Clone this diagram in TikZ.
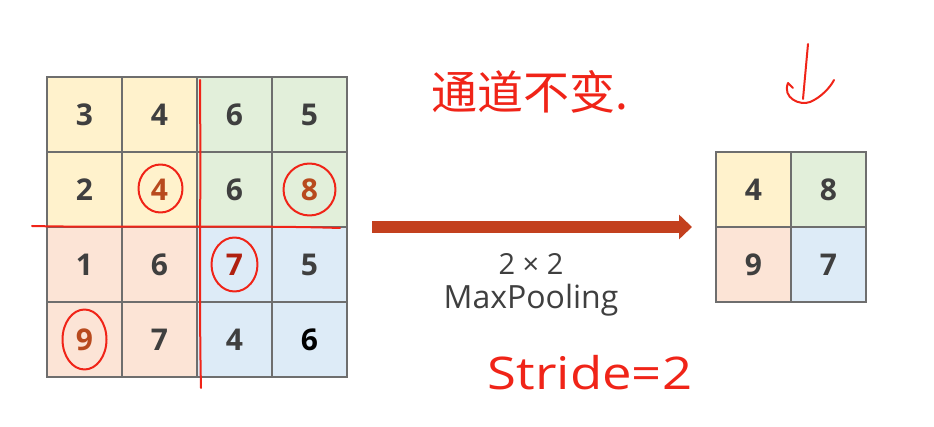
\documentclass[tikz,border=0pt]{standalone}
\usepackage{fontspec}
\setmainfont{Open Sans}
\newfontfamily\cjk{Noto Sans CJK SC}
\usepackage{xcolor}
\usepackage{tikz}
\usetikzlibrary{positioning, calc, arrows.meta}

\definecolor{q00}{HTML}{FFF2CC}
\definecolor{q01}{HTML}{E2EFDA}
\definecolor{q10}{HTML}{FCE4D6}
\definecolor{q11}{HTML}{DDEBF7}
\definecolor{num}{HTML}{3F3F3F}
\definecolor{hot}{HTML}{B84A1E}
\definecolor{hotter}{HTML}{B02010}
\definecolor{gridline}{HTML}{6E6E6E}
\definecolor{arrowred}{HTML}{C3401E}
\definecolor{pen}{HTML}{F02418}

\tikzset{
  cell/.style={draw=gridline, line width=1.3pt, minimum size=75pt, inner sep=0pt,
    font=\fontsize{30}{30}\selectfont\bfseries},
  ink/.style={draw=pen, line width=2pt, line cap=round, line join=round},
}

\begin{document}
\begin{tikzpicture}[x=1pt,y=-1pt]
  \useasboundingbox[fill=white] (0,0) rectangle (934,427);

  % Input 4x4
  \foreach \r/\vals in {0/{3/num,4/num,6/num,5/num},
                        1/{2/num,4/hot,6/num,8/hot},
                        2/{1/num,6/num,7/hotter,5/num},
                        3/{9/hot,7/num,4/num,6/black}} {
    \foreach \v/\t [count=\c from 0] in \vals {
      \pgfmathtruncatemacro\qr{\r/2}
      \pgfmathtruncatemacro\qc{\c/2}
      \node[cell, fill=q\qr\qc, text=\t] (in-\r-\c) at (84.5+75*\c,114.5+75*\r) {\v};
    }
  }

  % Output 2x2
  \foreach \r/\vals in {0/{4,8}, 1/{9,7}} {
    \foreach \v [count=\c from 0] in \vals {
      \node[cell, fill=q\r\c, text=num] (out-\r-\c) at (753.5+75*\c,189.5+75*\r) {\v};
    }
  }

  % Arrow
  \coordinate (from) at (372,227);
  \coordinate (to) at (692,227);
  \draw[arrowred, line width=12pt, -{Triangle[length=13pt,width=24pt]}] (from) -- (to);
  \node[text=num, font=\fontsize{29}{29}\selectfont] (size) at (531,264) {2 × 2};
  \node[text=num, font=\fontsize{32}{32}\selectfont, below=3pt of size] (op) {MaxPooling};

  % Pen marks
  \draw[ink] (200,80) .. controls (201,200) and (199,300) .. (201,388);
  \draw[ink] (32,226) .. controls (120,228) and (250,225) .. (340,228);
  \draw[ink] (in-1-1) ++(1,-1) ellipse [x radius=22pt, y radius=24pt];
  \draw[ink] (in-1-3) ++(0,0) ellipse [x radius=26pt, y radius=26pt];
  \draw[ink] (in-2-2) ++(0,0) ellipse [x radius=23pt, y radius=27pt];
  \draw[ink] (in-3-0) ++(0,0) ellipse [x radius=22pt, y radius=30pt];

  \node[text=pen, font=\cjk\fontsize{46}{46}\selectfont] (note) at (530,92) {通道不变.};
  \node[text=pen, font=\fontsize{45}{45}\selectfont, xscale=1.17] (stride) at (590,373) {Stride=2};

  \draw[ink] (808,44) -- (803,99);
  \draw[ink] (793,88) -- (788,83) .. controls (782,98) and (800,106) .. (810,102)
    .. controls (820,98) and (830,88) .. (834,80);
\end{tikzpicture}
\end{document}
